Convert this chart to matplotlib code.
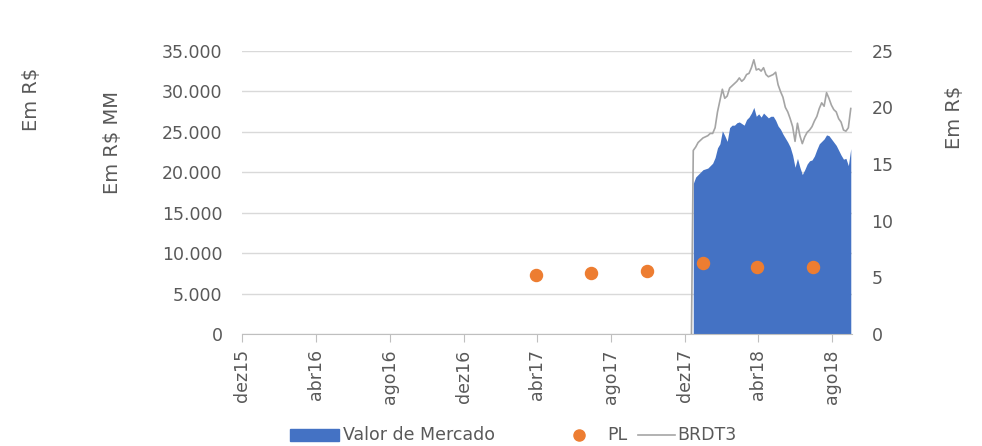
import numpy as np
import pandas as pd
import matplotlib
matplotlib.use('Agg')
import matplotlib.pyplot as plt
from matplotlib.ticker import FuncFormatter
from matplotlib.patches import Rectangle
from matplotlib.lines import Line2D

plt.rcParams['font.family'] = ['DejaVu Sans']

# dados
inicio = '2017-12-15'
valor_mercado = [18600, 19400, 19700, 20000, 20300, 20400, 20500, 20800, 21100, 21800,
                 23000, 23500, 25100, 24500, 23800, 25500, 25800, 25800, 26100, 26200,
                 26000, 25800, 26500, 26800, 27300, 28000, 26900, 27200, 26800, 27300,
                 27000, 26700, 26900, 26900, 26400, 25700, 25300, 24700, 24200, 23700,
                 23100, 22100, 20600, 21700, 20600, 19700, 20300, 21000, 21400, 21500,
                 22000, 22800, 23500, 23800, 24100, 24600, 24500, 24100, 23700, 23300,
                 22700, 22100, 21600, 21700, 20800, 22900]
brdt3 = [16.2, 16.5, 16.9, 17.1, 17.3, 17.4, 17.5, 17.7, 17.7, 18.2,
         19.6, 20.6, 21.6, 20.8, 21.0, 21.7, 21.9, 22.1, 22.3, 22.6,
         22.3, 22.5, 22.9, 23.0, 23.5, 24.2, 23.3, 23.4, 23.2, 23.5,
         22.9, 22.7, 22.8, 22.9, 23.1, 22.0, 21.4, 20.9, 20.0, 19.6,
         19.0, 18.3, 17.0, 18.6, 17.5, 16.8, 17.4, 17.8, 18.0, 18.3,
         18.8, 19.2, 19.9, 20.4, 20.1, 21.3, 20.8, 20.2, 19.8, 19.6,
         19.0, 18.7, 18.0, 17.9, 18.2, 19.9]
pl_datas = ['2017-03-31', '2017-06-30', '2017-09-30', '2017-12-31', '2018-03-31', '2018-06-30']
pl = [7330, 7570, 7780, 8730, 8310, 8310]
tick_datas = ['2015-12-01', '2016-04-01', '2016-08-01', '2016-12-01', '2017-04-01',
              '2017-08-01', '2017-12-01', '2018-04-01', '2018-08-01']
tick_labels = ['dez15', 'abr16', 'ago16', 'dez16', 'abr17', 'ago17', 'dez17', 'abr18', 'ago18']

datas = pd.date_range(inicio, periods=len(valor_mercado), freq='4D')
# antes do IPO a cotação fica em zero
datas_px = [pd.Timestamp('2017-12-12')] + list(datas)
brdt3_px = [0] + brdt3

azul = '#4472c4'
laranja = '#ed7d31'
cinza = '#a5a5a5'
texto = '#595959'
fs = 12.5

fig = plt.figure(figsize=(9.82, 4.46), dpi=100)
ax = fig.add_axes([0.2464, 0.2511, 0.6212, 0.6352])
ax2 = ax.twinx()

ax.fill_between(datas, 0, valor_mercado, color=azul, linewidth=0, zorder=2)
ax.scatter(pd.to_datetime(pl_datas), pl, s=75, color=laranja, zorder=4)
ax2.plot(datas_px, brdt3_px, color=cinza, linewidth=1.2, zorder=3)

ax.set_ylim(0, 35000)
ax.set_yticks(np.arange(0, 35001, 5000))
ax.yaxis.set_major_formatter(FuncFormatter(lambda v, p: f'{int(v):,}'.replace(',', '.')))
ax2.set_ylim(0, 25)
ax2.set_yticks(np.arange(0, 26, 5))
ax.set_xlim(pd.Timestamp('2015-12-01'), pd.Timestamp('2018-09-03'))
ax.set_xticks(pd.to_datetime(tick_datas))
ax.set_xticklabels(tick_labels, rotation=90)

ax.grid(axis='y', color='#d9d9d9', linewidth=1)
ax.set_axisbelow(True)
for a in (ax, ax2):
    for s in ['top', 'left', 'right', 'bottom']:
        a.spines[s].set_visible(False)
ax.spines['bottom'].set_visible(True)
ax.spines['bottom'].set_color('#bfbfbf')
ax.tick_params(axis='y', length=0, pad=14, labelsize=fs, labelcolor=texto)
ax2.tick_params(axis='y', length=0, pad=14, labelsize=fs, labelcolor=texto)
ax.tick_params(axis='x', length=6, color='#bfbfbf', pad=5, labelsize=fs, labelcolor=texto)

fig.text(0.1146, 0.6816, 'Em R$ MM', rotation=90, ha='center', va='center', fontsize=14, color=texto)
fig.text(0.0316, 0.778, 'Em R$', rotation=90, ha='center', va='center', fontsize=14, color=texto)
fig.text(0.9715, 0.7366, 'Em R$', rotation=90, ha='center', va='center', fontsize=14, color=texto)

# legenda montada à mão (espaçamento estilo Excel)
W, H = 982, 446
ly = 1 - 435 / H
fig.patches.append(Rectangle((290 / W, ly - 6 / H), 49 / W, 12 / H, transform=fig.transFigure,
                             color=azul, figure=fig))
fig.text(343 / W, ly, 'Valor de Mercado', ha='left', va='center', fontsize=fs, color=texto)
fig.lines.append(Line2D([579 / W], [ly], marker='o', markersize=8, color=laranja,
                        transform=fig.transFigure, figure=fig))
fig.text(607 / W, ly, 'PL', ha='left', va='center', fontsize=fs, color=texto)
fig.lines.append(Line2D([638 / W, 675 / W], [ly, ly], color=cinza, linewidth=1.2,
                        transform=fig.transFigure, figure=fig))
fig.text(677 / W, ly, 'BRDT3', ha='left', va='center', fontsize=fs, color=texto)

fig.savefig('out.png', dpi=100)
